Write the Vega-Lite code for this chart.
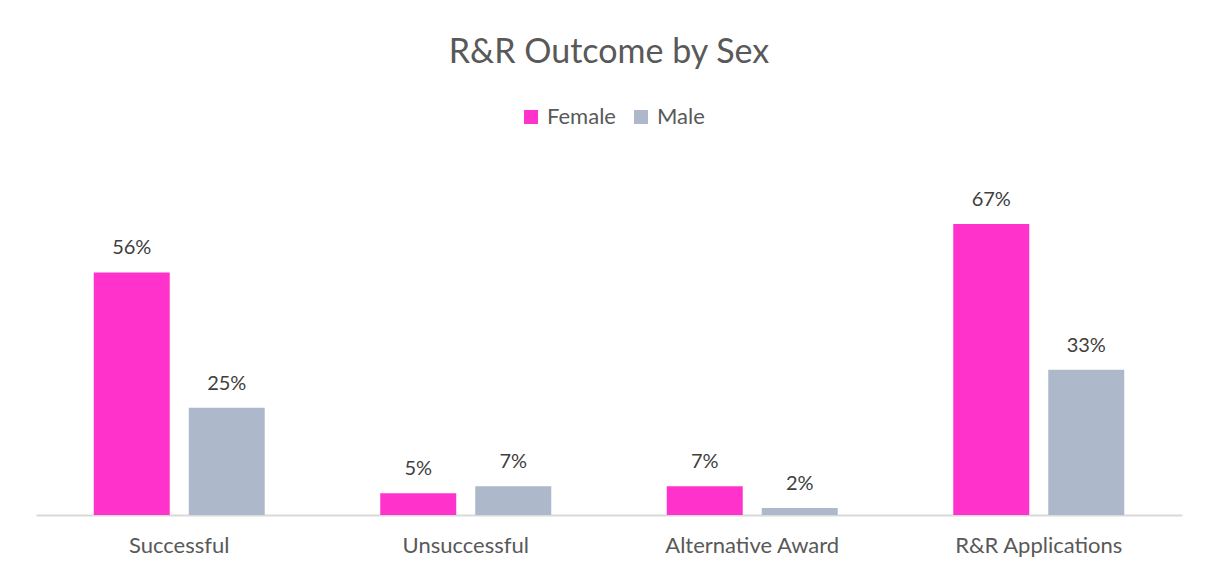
{
  "$schema": "https://vega.github.io/schema/vega-lite/v6.json",
  "width": 1146,
  "height": 349,
  "autosize": {"type": "none"},
  "padding": {"left": 36, "top": 166, "right": 23, "bottom": 56},
  "background": "white",
  "config": {
    "font": "Lato",
    "view": {"stroke": null},
    "text": {"font": "Lato"}
  },
  "title": {
    "text": "R&R Outcome by Sex",
    "anchor": "middle",
    "font": "Lato",
    "fontSize": 34,
    "fontWeight": "normal",
    "color": "#595959",
    "offset": 36
  },
  "data": {
    "values": [
      {"category": "Successful", "sex": "Female", "value": 0.556},
      {"category": "Successful", "sex": "Male", "value": 0.246},
      {"category": "Unsuccessful", "sex": "Female", "value": 0.05},
      {"category": "Unsuccessful", "sex": "Male", "value": 0.066},
      {"category": "Alternative Award", "sex": "Female", "value": 0.066},
      {"category": "Alternative Award", "sex": "Male", "value": 0.016},
      {"category": "R&R Applications", "sex": "Female", "value": 0.667},
      {"category": "R&R Applications", "sex": "Male", "value": 0.333}
    ]
  },
  "encoding": {
    "x": {
      "field": "category",
      "type": "nominal",
      "sort": ["Successful", "Unsuccessful", "Alternative Award", "R&R Applications"],
      "scale": {"paddingInner": 0, "paddingOuter": 0},
      "axis": {
        "title": null,
        "labelAngle": 0,
        "labelFont": "Lato",
        "labelFontSize": 22,
        "labelColor": "#595959",
        "labelPadding": 20,
        "ticks": false,
        "domainColor": "#D9D9D9",
        "domainWidth": 2
      }
    },
    "xOffset": {
      "field": "sex",
      "type": "nominal",
      "sort": ["Female", "Male"],
      "scale": {"paddingInner": 0.2, "paddingOuter": 0.608}
    },
    "y": {
      "field": "value",
      "type": "quantitative",
      "scale": {"domain": [0, 0.8]},
      "axis": null
    }
  },
  "layer": [
    {
      "mark": {"type": "bar"},
      "encoding": {
        "color": {
          "field": "sex",
          "type": "nominal",
          "sort": ["Female", "Male"],
          "scale": {"domain": ["Female", "Male"], "range": ["#FF33CC", "#ADB9CA"]},
          "legend": {
            "title": null,
            "orient": "none",
            "legendX": 484,
            "legendY": -60,
            "direction": "horizontal",
            "symbolType": "square",
            "symbolSize": 196,
            "symbolStrokeWidth": 0,
            "labelFont": "Lato",
            "labelFontSize": 22,
            "labelColor": "#595959",
            "columnPadding": 14,
            "labelOffset": 5
          }
        }
      }
    },
    {
      "mark": {
        "type": "text",
        "baseline": "bottom",
        "dy": -14,
        "fontSize": 20,
        "font": "Lato",
        "color": "#404040"
      },
      "encoding": {
        "text": {"field": "value", "type": "quantitative", "format": ".0%"}
      }
    }
  ]
}
